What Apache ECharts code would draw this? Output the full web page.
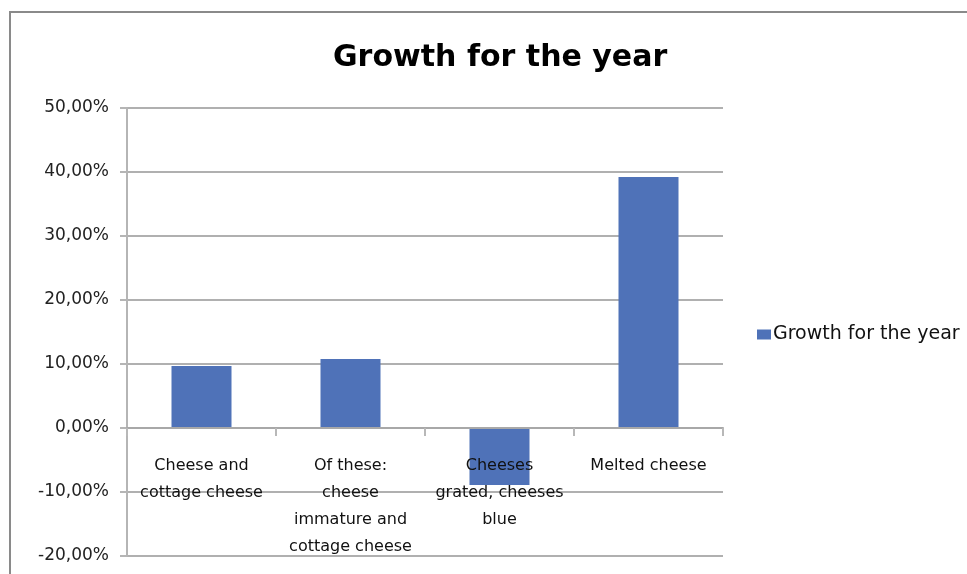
<!DOCTYPE html>
<html>
<head>
<meta charset="utf-8">
<script src="https://cdn.jsdelivr.net/npm/echarts@6/dist/echarts.min.js"></script>
<style>html,body{margin:0;padding:0;background:#fff}#c{width:967px;height:574px}</style>
</head>
<body>
<div id="c"></div>
<script>
var categories = ['Cheese and\ncottage cheese', 'Of these:\ncheese\nimmature and\ncottage cheese', 'Cheeses\ngrated, cheeses\nblue', 'Melted cheese'];
var growth = [0.097, 0.108, -0.089, 0.392];
var seriesName = 'Growth for the year';
var titleText = 'Growth for the year';
var yMin = -0.2, yMax = 0.5, yStep = 0.1;

var gridTop = 108, gridBottom = 18, chartH = 574;
var plotH = chartH - gridTop - gridBottom;
var zeroOffset = plotH * (0 - yMin) / (yMax - yMin);

var chart = echarts.init(document.getElementById('c'));
chart.setOption({
  animation: false,
  backgroundColor: '#fff',
  title: {
    text: titleText, left: 328, top: 38,
    textStyle: { fontFamily: 'DejaVu Sans', fontWeight: 'bold', fontSize: 30, color: '#000' }
  },
  legend: {
    data: [seriesName], left: 752, top: 320, orient: 'vertical',
    itemWidth: 14, itemHeight: 10, itemGap: 4,
    icon: 'rect',
    textStyle: { fontFamily: 'DejaVu Sans', fontSize: 19, color: '#111', padding: [0, 0, 0, -3] }
  },
  grid: { left: 127, right: 244, top: gridTop, bottom: gridBottom, containLabel: false, outerBoundsMode: 'none' },
  xAxis: {
    type: 'category', data: categories,
    offset: -zeroOffset,
    z: 5,
    axisLine: { onZero: false, lineStyle: { color: '#a8a8a8', width: 2 } },
    axisTick: { show: true, length: 8, lineStyle: { color: '#b8b8b8', width: 2 } },
    axisLabel: { fontFamily: 'DejaVu Sans', fontSize: 16, color: '#111', lineHeight: 27, margin: 24, interval: 0 },
    splitLine: { show: false }
  },
  yAxis: {
    type: 'value', min: yMin, max: yMax, interval: yStep,
    axisLine: { show: true, lineStyle: { color: '#b5b5b5', width: 2 } },
    axisTick: { show: true, length: 7, lineStyle: { color: '#b5b5b5', width: 2 } },
    axisLabel: {
      fontFamily: 'DejaVu Sans', fontSize: 17, color: '#222', margin: 18,
      formatter: function (v) { return (v * 100).toFixed(2).replace('.', ',') + '%'; }
    },
    splitLine: { show: true, lineStyle: { color: '#b0b0b0', width: 2 } }
  },
  graphic: [
    { type: 'polyline', shape: { points: [[10, 600], [10, 12], [980, 12]] }, style: { stroke: '#8a8a8a', lineWidth: 2, fill: null }, silent: true }
  ],
  series: [{
    name: seriesName, type: 'bar', data: growth,
    barWidth: 60, z: 2,
    itemStyle: { color: '#4F72B8' }
  }]
});
</script>
</body>
</html>
